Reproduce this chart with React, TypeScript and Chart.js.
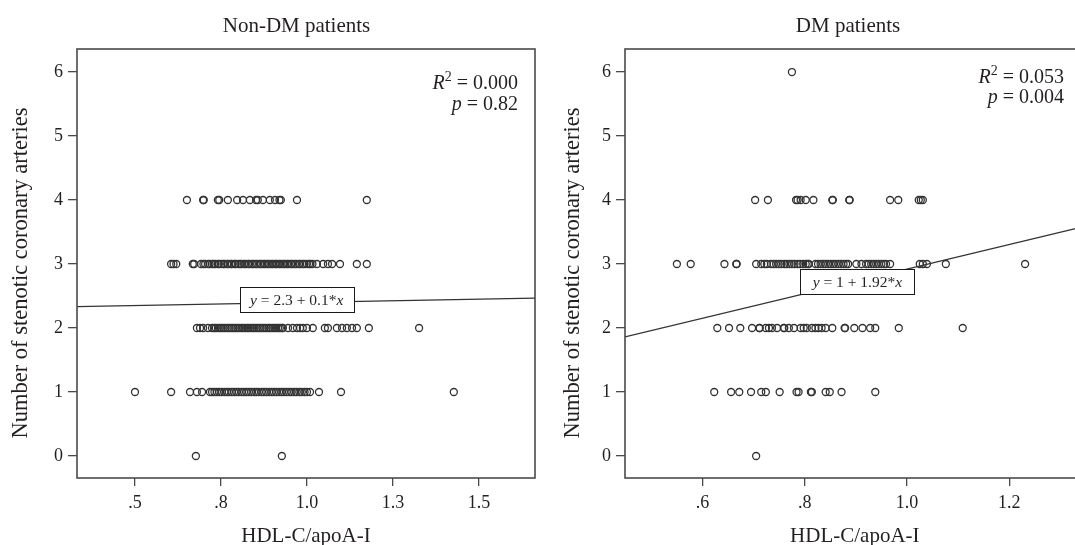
import React, { useEffect, useRef } from "react";
import { Chart, registerables } from "chart.js";

Chart.register(...registerables);

const SERIF = '"Liberation Serif", "Times New Roman", Times, serif';
const INK = "#231f20";
const AXIS = "#4a4a4a";
const MARK = "#333333";

// ---------------- Non-DM patients ----------------
const nonDmCount0 = [0.677, 0.927];
const nonDmCount1 = [
  0.5, 0.605, 0.66, 0.68, 0.695, 0.718, 0.724, 0.731, 0.738, 0.745, 0.752, 0.76, 0.767, 0.773,
  0.781, 0.788, 0.795, 0.802, 0.81, 0.817, 0.824, 0.831, 0.838, 0.846, 0.853, 0.86, 0.868,
  0.875, 0.882, 0.89, 0.897, 0.904, 0.911, 0.919, 0.926, 0.933, 0.941, 0.948, 0.955, 0.963,
  0.97, 0.978, 0.985, 0.993, 1.0, 1.009, 1.035, 1.099, 1.427,
];
const nonDmCount2 = [
  0.68, 0.689, 0.698, 0.712, 0.724, 0.73, 0.735, 0.741, 0.747, 0.752, 0.758, 0.763, 0.77, 0.775,
  0.781, 0.786, 0.792, 0.798, 0.803, 0.809, 0.814, 0.82, 0.826, 0.831, 0.837, 0.843, 0.848,
  0.854, 0.86, 0.865, 0.871, 0.876, 0.882, 0.888, 0.893, 0.899, 0.905, 0.91, 0.916, 0.921,
  0.927, 0.93, 0.945, 0.959, 0.971, 0.98, 0.988, 1.0, 1.017, 1.052, 1.061, 1.087, 1.102,
  1.116, 1.131, 1.145, 1.18, 1.326,
];
const nonDmCount3 = [
  0.605, 0.612, 0.62, 0.668, 0.672, 0.692, 0.699, 0.704, 0.713, 0.717, 0.724, 0.729, 0.733,
  0.741, 0.744, 0.751, 0.757, 0.76, 0.768, 0.771, 0.779, 0.782, 0.79, 0.793, 0.801, 0.806,
  0.81, 0.817, 0.821, 0.829, 0.832, 0.84, 0.844, 0.851, 0.855, 0.863, 0.866, 0.874, 0.878,
  0.885, 0.889, 0.897, 0.901, 0.908, 0.912, 0.919, 0.923, 0.931, 0.935, 0.942, 0.946, 0.954,
  0.957, 0.965, 0.969, 0.977, 0.98, 0.988, 0.992, 1.0, 1.006, 1.01, 1.016, 1.029, 1.047,
  1.061, 1.073, 1.096, 1.145, 1.174,
];
const nonDmCount4 = [
  0.651, 0.698, 0.7, 0.741, 0.745, 0.77, 0.797, 0.814, 0.834, 0.852, 0.857, 0.872, 0.892,
  0.907, 0.92, 0.924, 0.971, 1.174,
];
const nonDmXTicks = [0.5, 0.75, 1.0, 1.25, 1.5];
const nonDmXTickLabels = [".5", ".8", "1.0", "1.3", "1.5"];
const nonDmFit = { intercept: 2.3, slope: 0.1 };

// ---------------- DM patients ----------------
const dmCount0 = [0.705];
const dmCount1 = [
  0.623, 0.656, 0.672, 0.695, 0.715, 0.724, 0.751, 0.784, 0.788, 0.812, 0.814, 0.841, 0.849,
  0.872, 0.938,
];
const dmCount2 = [
  0.629, 0.652, 0.674, 0.697, 0.711, 0.712, 0.724, 0.73, 0.736, 0.746, 0.759, 0.76, 0.769,
  0.779, 0.792, 0.798, 0.804, 0.814, 0.821, 0.827, 0.833, 0.841, 0.854, 0.878, 0.879, 0.897,
  0.913, 0.928, 0.938, 0.984, 1.109,
];
const dmCount3 = [
  0.55, 0.577, 0.643, 0.666, 0.667, 0.705, 0.715, 0.721, 0.726, 0.734, 0.739, 0.744, 0.749,
  0.754, 0.76, 0.765, 0.77, 0.775, 0.78, 0.786, 0.791, 0.797, 0.802, 0.806, 0.808, 0.821,
  0.826, 0.831, 0.836, 0.841, 0.846, 0.851, 0.856, 0.861, 0.866, 0.871, 0.876, 0.881, 0.885,
  0.901, 0.911, 0.92, 0.925, 0.93, 0.935, 0.94, 0.945, 0.95, 0.955, 0.959, 0.967, 1.025,
  1.031, 1.039, 1.076, 1.231,
];
const dmCount4 = [
  0.703, 0.728, 0.783, 0.786, 0.792, 0.802, 0.817, 0.854, 0.855, 0.887, 0.888, 0.967, 0.983,
  1.023, 1.027, 1.031,
];
const dmCount6 = [0.775];
const dmXTicks = [0.6, 0.8, 1.0, 1.2];
const dmXTickLabels = [".6", ".8", "1.0", "1.2"];
const dmFit = { intercept: 1, slope: 1.92 };

const yTicks = [0, 1, 2, 3, 4, 5, 6];
const yTickLabels = ["0", "1", "2", "3", "4", "5", "6"];

type Seg = { t: string; italic?: boolean; sup?: boolean };

type PanelCfg = {
  title: string;
  groups: { count: number; xs: number[] }[];
  xMin: number;
  xMax: number;
  xTicks: number[];
  xTickLabels: string[];
  fit: { intercept: number; slope: number };
  stats: Seg[][];
  eq: Seg[];
  layout: {
    canvasLeft: number;
    canvasWidth: number;
    yAxisWidth: number;
    padRight: number;
    titleX: number;
    yTitleX: number;
    statsRight: number;
    statsBase: number[];
    eqX: number;
    eqY: number;
  };
};

const nonDmCfg: PanelCfg = {
  title: "Non-DM patients",
  groups: [
    { count: 0, xs: nonDmCount0 },
    { count: 1, xs: nonDmCount1 },
    { count: 2, xs: nonDmCount2 },
    { count: 3, xs: nonDmCount3 },
    { count: 4, xs: nonDmCount4 },
  ],
  xMin: 0.3314,
  xMax: 1.663,
  xTicks: nonDmXTicks,
  xTickLabels: nonDmXTickLabels,
  fit: nonDmFit,
  stats: [
    [{ t: "R", italic: true }, { t: "2", sup: true }, { t: " = 0.000" }],
    [{ t: "p", italic: true }, { t: " = 0.82" }],
  ],
  eq: [{ t: "y", italic: true }, { t: " = 2.3 + 0.1" }, { t: "*" }, { t: "x", italic: true }],
  layout: {
    canvasLeft: 0,
    canvasWidth: 545,
    yAxisWidth: 77,
    padRight: 10,
    titleX: 296.5,
    yTitleX: 21,
    statsRight: 518,
    statsBase: [89, 110],
    eqX: 0.97,
    eqY: 2.445,
  },
};

const dmCfg: PanelCfg = {
  title: "DM patients",
  groups: [
    { count: 0, xs: dmCount0 },
    { count: 1, xs: dmCount1 },
    { count: 2, xs: dmCount2 },
    { count: 3, xs: dmCount3 },
    { count: 4, xs: dmCount4 },
    { count: 6, xs: dmCount6 },
  ],
  xMin: 0.4485,
  xMax: 1.3476,
  xTicks: dmXTicks,
  xTickLabels: dmXTickLabels,
  fit: dmFit,
  stats: [
    [{ t: "R", italic: true }, { t: "2", sup: true }, { t: " = 0.053" }],
    [{ t: "p", italic: true }, { t: " = 0.004" }],
  ],
  eq: [{ t: "y", italic: true }, { t: " = 1 + 1.92" }, { t: "*" }, { t: "x", italic: true }],
  layout: {
    canvasLeft: 545,
    canvasWidth: 545,
    yAxisWidth: 80,
    padRight: 3,
    titleX: 303,
    yTitleX: 28,
    statsRight: 519,
    statsBase: [83, 103],
    eqX: 0.903,
    eqY: 2.727,
  },
};

const CANVAS_H = 560;

function segFont(s: Seg, size: number) {
  return `${s.italic ? "italic " : ""}${s.sup ? Math.round(size * 0.7) : size}px ${SERIF}`;
}

function drawRich(
  ctx: CanvasRenderingContext2D,
  segs: Seg[],
  x: number,
  baseline: number,
  size: number,
  align: "left" | "right" | "center"
) {
  const widths = segs.map((s) => {
    ctx.font = segFont(s, size);
    return ctx.measureText(s.t).width;
  });
  const total = widths.reduce((a, b) => a + b, 0);
  let cx = align === "right" ? x - total : align === "center" ? x - total / 2 : x;
  ctx.textAlign = "left";
  ctx.textBaseline = "alphabetic";
  segs.forEach((s, i) => {
    ctx.font = segFont(s, size);
    ctx.fillText(s.t, cx, baseline - (s.sup ? size * 0.4 : 0));
    cx += widths[i];
  });
}

const decorPlugin = {
  id: "decor",
  afterDatasetsDraw(chart: any, _args: any, opts: any) {
    const cfg: PanelCfg = opts.cfg;
    const { ctx, chartArea, scales } = chart;
    const L = cfg.layout;
    ctx.save();
    // frame
    ctx.strokeStyle = AXIS;
    ctx.lineWidth = 1.6;
    ctx.strokeRect(
      chartArea.left,
      chartArea.top,
      chartArea.right - chartArea.left,
      chartArea.bottom - chartArea.top
    );
    ctx.fillStyle = INK;
    // panel title
    ctx.font = `21px ${SERIF}`;
    ctx.textAlign = "center";
    ctx.textBaseline = "alphabetic";
    ctx.fillText(cfg.title, L.titleX, 32);
    // y axis title
    ctx.save();
    ctx.translate(L.yTitleX, 273);
    ctx.rotate(-Math.PI / 2);
    ctx.font = `22.5px ${SERIF}`;
    ctx.textAlign = "center";
    ctx.textBaseline = "middle";
    ctx.fillText("Number of stenotic coronary arteries", 0, 0);
    ctx.restore();
    // stats
    cfg.stats.forEach((row, i) => drawRich(ctx, row, L.statsRight, L.statsBase[i], 20, "right"));
    // equation box
    const cx = scales.x.getPixelForValue(L.eqX);
    const cy = scales.y.getPixelForValue(L.eqY);
    const bw = 114;
    const bh = 25;
    const bx = Math.round(cx - bw / 2) + 0.5;
    const by = Math.round(cy - bh / 2) + 0.5;
    ctx.fillStyle = "#ffffff";
    ctx.fillRect(bx, by, bw, bh);
    ctx.strokeStyle = "#1a1a1a";
    ctx.lineWidth = 1;
    ctx.strokeRect(bx, by, bw, bh);
    ctx.fillStyle = INK;
    drawRich(ctx, cfg.eq, cx, cy + 5.5, 15.5, "center");
    ctx.restore();
  },
};

function Panel({ cfg }: { cfg: PanelCfg }) {
  const ref = useRef<HTMLCanvasElement>(null);
  useEffect(() => {
    const L = cfg.layout;
    const points: { x: number; y: number }[] = [];
    cfg.groups.forEach((g) => g.xs.forEach((x) => points.push({ x, y: g.count })));
    const line = [
      { x: cfg.xMin, y: cfg.fit.intercept + cfg.fit.slope * cfg.xMin },
      { x: cfg.xMax, y: cfg.fit.intercept + cfg.fit.slope * cfg.xMax },
    ];
    const chart = new Chart(ref.current as HTMLCanvasElement, {
      type: "scatter",
      data: {
        datasets: [
          {
            type: "line",
            data: line,
            borderColor: MARK,
            borderWidth: 1.2,
            pointRadius: 0,
            fill: false,
          } as any,
          {
            type: "scatter",
            data: points,
            pointStyle: "circle",
            pointRadius: 3.5,
            pointBorderWidth: 1.3,
            borderColor: MARK,
            backgroundColor: "rgba(0,0,0,0)",
            pointBackgroundColor: "rgba(0,0,0,0)",
            pointBorderColor: MARK,
          } as any,
        ],
      },
      options: {
        responsive: false,
        animation: false,
        devicePixelRatio: 1,
        events: [],
        layout: { padding: { top: 49, right: L.padRight, left: 0, bottom: 0 } },
        plugins: {
          legend: { display: false },
          tooltip: { enabled: false },
          title: { display: false },
          decor: { cfg },
        } as any,
        scales: {
          x: {
            type: "linear",
            min: cfg.xMin,
            max: cfg.xMax,
            afterBuildTicks: (s: any) => {
              s.ticks = cfg.xTicks.map((v) => ({ value: v }));
            },
            afterFit: (s: any) => {
              s.height = CANVAS_H - 478;
            },
            grid: {
              display: true,
              drawOnChartArea: false,
              drawTicks: true,
              tickLength: 8,
              color: AXIS,
              lineWidth: 1.3,
            },
            border: { display: false },
            ticks: {
              color: INK,
              font: { family: SERIF, size: 18 },
              padding: 6,
              autoSkip: false,
              maxRotation: 0,
              callback: (_v: any, i: number) => cfg.xTickLabels[i],
            },
            title: {
              display: true,
              text: "HDL-C/apoA-I",
              color: INK,
              font: { family: SERIF, size: 21 },
              padding: { top: 0, bottom: 11 },
            },
          },
          y: {
            type: "linear",
            min: -0.344,
            max: 6.36,
            afterBuildTicks: (s: any) => {
              s.ticks = yTicks.map((v) => ({ value: v }));
            },
            afterFit: (s: any) => {
              s.width = L.yAxisWidth;
            },
            grid: {
              display: true,
              drawOnChartArea: false,
              drawTicks: true,
              tickLength: 9,
              color: AXIS,
              lineWidth: 1.3,
            },
            border: { display: false },
            ticks: {
              color: INK,
              font: { family: SERIF, size: 18 },
              padding: 5,
              autoSkip: false,
              callback: (_v: any, i: number) => yTickLabels[i],
            },
            title: { display: false },
          },
        },
      } as any,
      plugins: [decorPlugin as any],
    });
    return () => chart.destroy();
  }, [cfg]);
  const L = cfg.layout;
  return (
    <canvas
      ref={ref}
      width={L.canvasWidth}
      height={CANVAS_H}
      style={{
        position: "absolute",
        left: L.canvasLeft,
        top: 0,
        width: L.canvasWidth,
        height: CANVAS_H,
      }}
    />
  );
}

export default function App() {
  return (
    <div
      style={{
        position: "fixed",
        left: 0,
        top: 0,
        width: 1075,
        height: 545,
        overflow: "hidden",
        background: "#ffffff",
      }}
    >
      <Panel cfg={nonDmCfg} />
      <Panel cfg={dmCfg} />
    </div>
  );
}
